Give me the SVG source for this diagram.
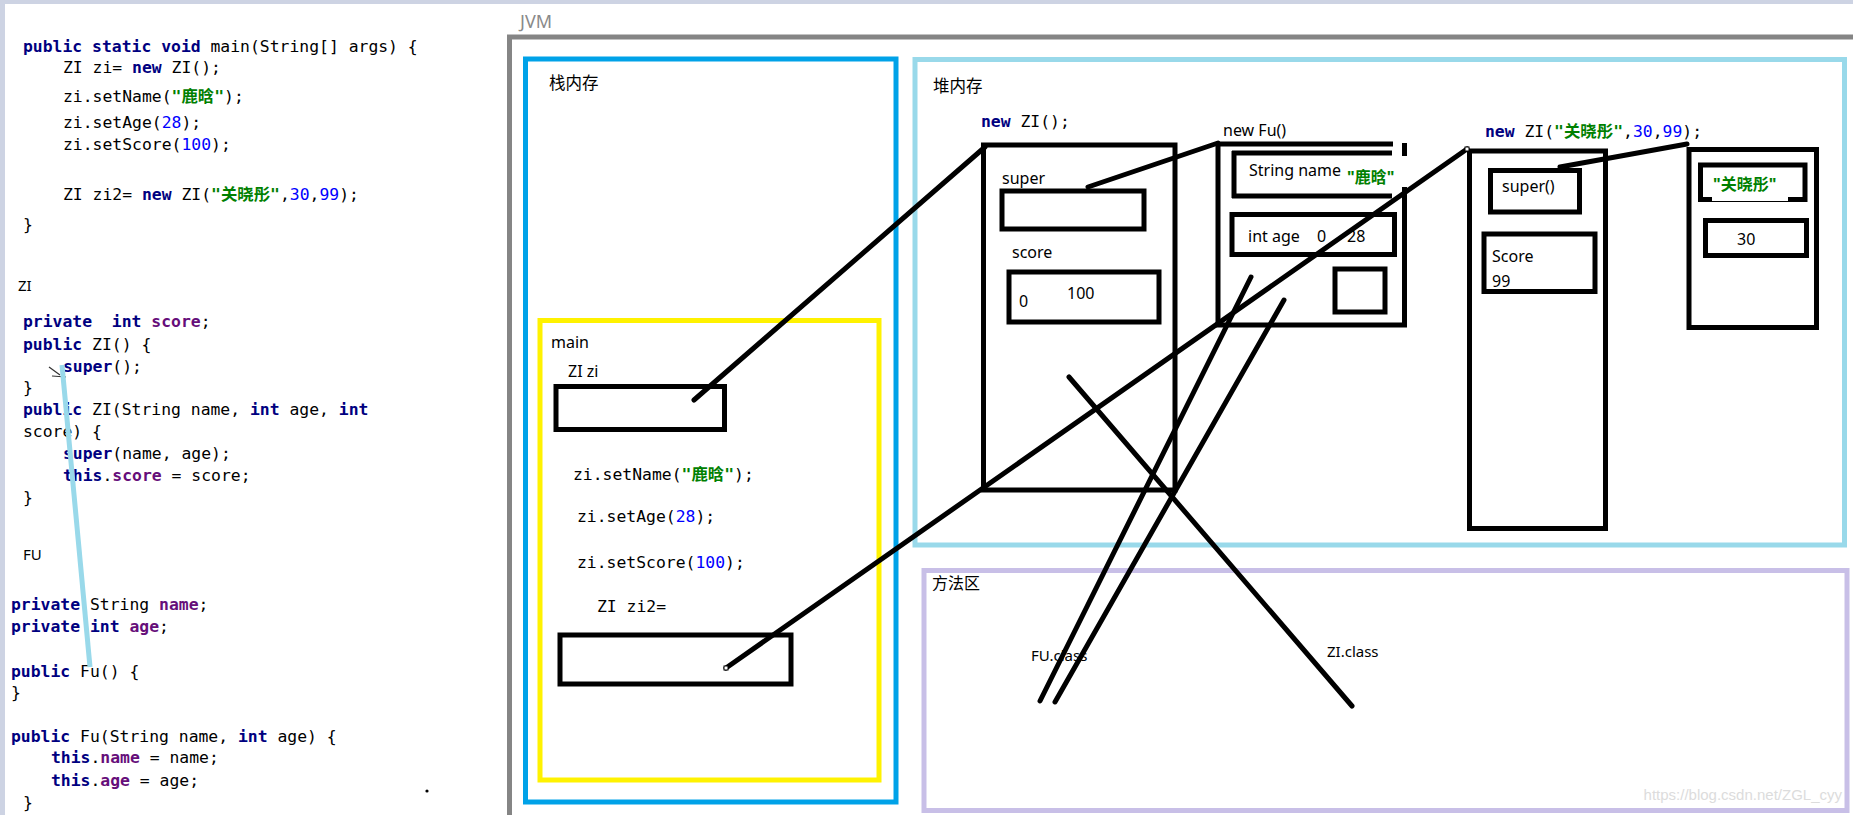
<svg xmlns="http://www.w3.org/2000/svg" width="1853" height="815" viewBox="0 0 1853 815">
<style>
.code{font-family:"DejaVu Sans Mono","Liberation Mono","Noto Sans CJK SC",monospace;font-size:16.4px;fill:#000}
.kw{font-weight:bold;fill:#000080}
.fd{font-weight:bold;fill:#660e7a}
.st{font-weight:bold;fill:#008000}
.nm{fill:#0000ff}
.lbl{font-family:"Noto Sans","Noto Sans CJK SC",sans-serif;font-size:16px;fill:#000}
.box{fill:none;stroke:#000;stroke-width:5}
.ln{stroke:#000;stroke-width:5;stroke-linecap:round;fill:none}
</style>
<rect x="0" y="0" width="1853" height="815" fill="#fff"/>
<rect x="0" y="0" width="1853" height="4" fill="#cdd3e3"/>
<rect x="0" y="0" width="5" height="815" fill="#cdd3e3"/>

<g id="code-panel">
<text class="code" x="23" y="52" xml:space="preserve"><tspan class="kw">public static void</tspan> main(String[] args) {</text>
<text class="code" x="63" y="73" xml:space="preserve">ZI zi= <tspan class="kw">new</tspan> ZI();</text>
<text class="code" x="63" y="102">zi.setName(<tspan class="st">"鹿晗"</tspan>);</text>
<text class="code" x="63" y="128">zi.setAge(<tspan class="nm">28</tspan>);</text>
<text class="code" x="63" y="150">zi.setScore(<tspan class="nm">100</tspan>);</text>
<text class="code" x="63" y="200" xml:space="preserve">ZI zi2= <tspan class="kw">new</tspan> ZI(<tspan class="st">"关晓彤"</tspan>,<tspan class="nm">30</tspan>,<tspan class="nm">99</tspan>);</text>
<text class="code" x="23" y="230">}</text>
<text class="lbl" x="18" y="291" style="font-size:15px">ZI</text>
<text class="code" x="23" y="327" xml:space="preserve"><tspan class="kw">private</tspan>  <tspan class="kw">int</tspan> <tspan class="fd">score</tspan>;</text>
<text class="code" x="23" y="350" xml:space="preserve"><tspan class="kw">public</tspan> ZI() {</text>
<text class="code" x="63" y="372"><tspan class="kw">super</tspan>();</text>
<text class="code" x="23" y="393">}</text>
<text class="code" x="23" y="415" xml:space="preserve"><tspan class="kw">public</tspan> ZI(String name, <tspan class="kw">int</tspan> age, <tspan class="kw">int</tspan></text>
<text class="code" x="23" y="437" xml:space="preserve">score) {</text>
<text class="code" x="63" y="459" xml:space="preserve"><tspan class="kw">super</tspan>(name, age);</text>
<text class="code" x="63" y="481" xml:space="preserve"><tspan class="kw">this</tspan>.<tspan class="fd">score</tspan> = score;</text>
<text class="code" x="23" y="503">}</text>
<text class="lbl" x="23" y="560" style="font-size:15px">FU</text>
<text class="code" x="11" y="610" xml:space="preserve"><tspan class="kw">private</tspan> String <tspan class="fd">name</tspan>;</text>
<text class="code" x="11" y="632" xml:space="preserve"><tspan class="kw">private</tspan> <tspan class="kw">int</tspan> <tspan class="fd">age</tspan>;</text>
<text class="code" x="11" y="677" xml:space="preserve"><tspan class="kw">public</tspan> Fu() {</text>
<text class="code" x="11" y="698">}</text>
<text class="code" x="11" y="742" xml:space="preserve"><tspan class="kw">public</tspan> Fu(String name, <tspan class="kw">int</tspan> age) {</text>
<text class="code" x="51" y="763" xml:space="preserve"><tspan class="kw">this</tspan>.<tspan class="fd">name</tspan> = name;</text>
<text class="code" x="51" y="786" xml:space="preserve"><tspan class="kw">this</tspan>.<tspan class="fd">age</tspan> = age;</text>
<text class="code" x="23" y="808">}</text>
<path d="M49 367 L60 375 M52 376 L66 377" stroke="#333" stroke-width="1.2" fill="none"/>
<circle cx="427" cy="791" r="1.6" fill="#000"/>
<line x1="62" y1="365" x2="90" y2="667" stroke="#99d9ea" stroke-width="5"/>
</g>

<g id="jvm">
<text x="520" y="28" style="font-family:'Noto Sans',sans-serif;font-size:18px;fill:#8a8a8a">JVM</text>
<path d="M509.5 820 L509.5 37 L1860 37" fill="none" stroke="#858585" stroke-width="5"/>
</g>

<g id="stack">
<rect x="525.5" y="59" width="370.5" height="743" fill="none" stroke="#00a2e8" stroke-width="5"/>
<text class="lbl" x="549" y="89" style="font-size:16.5px">栈内存</text>
</g>

<g id="main-frame">
<rect x="540" y="320.5" width="339" height="459.5" fill="none" stroke="#fff200" stroke-width="5"/>
<text class="lbl" x="551" y="348">main</text>
<text class="lbl" x="568" y="377">ZI zi</text>
<rect class="box" x="556" y="386.5" width="168.5" height="43"/>
<text class="code" x="573" y="480">zi.setName(<tspan class="st">"鹿晗"</tspan>);</text>
<text class="code" x="577" y="522">zi.setAge(<tspan class="nm">28</tspan>);</text>
<text class="code" x="577" y="568">zi.setScore(<tspan class="nm">100</tspan>);</text>
<text class="code" x="597" y="612" xml:space="preserve">ZI zi2=</text>
<rect class="box" x="560" y="635" width="231" height="49"/>
</g>

<g id="heap">
<rect x="915" y="59.5" width="929.5" height="485.5" fill="none" stroke="#99d9ea" stroke-width="5"/>
<text class="lbl" x="933" y="92" style="font-size:16.5px">堆内存</text>
</g>

<g id="method-area">
<rect x="924" y="570.5" width="923" height="240" fill="none" stroke="#c8bfe7" stroke-width="5"/>
<text class="lbl" x="932" y="589">方法区</text>
<text class="lbl" x="1031" y="661" style="font-size:15px">FU.class</text>
<text class="lbl" x="1327" y="657" style="font-size:15px">ZI.class</text>
<text x="1842" y="800" text-anchor="end" style="font-family:'Liberation Sans',sans-serif;font-size:15px;fill:#dcdcdc">https://blog.csdn.net/ZGL_cyy</text>
</g>

<g id="zi-object">
<text class="code" x="981" y="127"><tspan class="kw">new</tspan> ZI();</text>
<rect class="box" x="983.5" y="145" width="191.5" height="345"/>
<text class="lbl" x="1002" y="184">super</text>
<rect class="box" x="1002" y="191" width="142" height="38"/>
<text class="lbl" x="1012" y="258">score</text>
<rect class="box" x="1009" y="272" width="150" height="50"/>
<text class="lbl" x="1019" y="307">0</text>
<text class="lbl" x="1067" y="299">100</text>
</g>

<g id="fu-object">
<text class="lbl" x="1223" y="136">new Fu()</text>
<path class="box" d="M1218 142 L1218 327 M1216 325 L1407 325 M1404.5 327 L1404.5 143 M1216 144 L1393 144"/>
<path class="box" d="M1234 151 L1234 198 M1232 153 L1392 153 M1232 196 L1392 196"/>
<rect x="1342" y="156" width="68" height="31" fill="#fff"/>
<text class="lbl" x="1347" y="183" style="font-weight:bold;fill:#008000">"鹿晗"</text>
<text class="lbl" x="1249" y="176">String name</text>
<rect class="box" x="1232" y="214.5" width="162.5" height="40"/>
<text class="lbl" x="1248" y="242">int age</text>
<text class="lbl" x="1317" y="242">0</text>
<text class="lbl" x="1347" y="242">28</text>
<rect class="box" x="1335" y="269" width="50" height="43"/>
</g>

<g id="zi2-object">
<text class="code" x="1485" y="137"><tspan class="kw">new</tspan> ZI(<tspan class="st">"关晓彤"</tspan>,<tspan class="nm">30</tspan>,<tspan class="nm">99</tspan>);</text>
<rect class="box" x="1469.5" y="151" width="136" height="377.5"/>
<rect class="box" x="1490.5" y="170.5" width="89" height="41.5"/>
<text class="lbl" x="1502" y="192">super()</text>
<rect class="box" x="1484" y="234" width="111" height="57.5"/>
<text class="lbl" x="1492" y="262">Score</text>
<text class="lbl" x="1492" y="287">99</text>
</g>

<g id="fu2-object">
<rect class="box" x="1689" y="149.5" width="127.5" height="178"/>
<rect class="box" x="1700.5" y="165" width="104.5" height="34.5"/>
<rect x="1712" y="170" width="76" height="31" fill="#fff"/>
<text class="lbl" x="1713" y="190" style="font-weight:bold;fill:#008000">"关晓彤"</text>
<rect class="box" x="1705.5" y="220.5" width="101" height="35"/>
<text class="lbl" x="1737" y="245">30</text>
</g>

<g id="connectors">
<line class="ln" x1="694" y1="400" x2="985" y2="147"/>
<line class="ln" x1="726" y1="668" x2="1467" y2="149"/>
<line class="ln" x1="1088" y1="187" x2="1218" y2="143"/>
<line class="ln" x1="1560" y1="167" x2="1687" y2="144"/>
<line class="ln" x1="1069" y1="377" x2="1352" y2="706"/>
<line class="ln" x1="1251" y1="277" x2="1040" y2="701"/>
<line class="ln" x1="1284" y1="300" x2="1055" y2="702"/>
<rect x="724" y="666" width="4" height="4" fill="#fff" stroke="#000" stroke-width="1"/>
<rect x="1465" y="147" width="4" height="4" fill="#fff" stroke="#000" stroke-width="1"/>
</g>
</svg>
